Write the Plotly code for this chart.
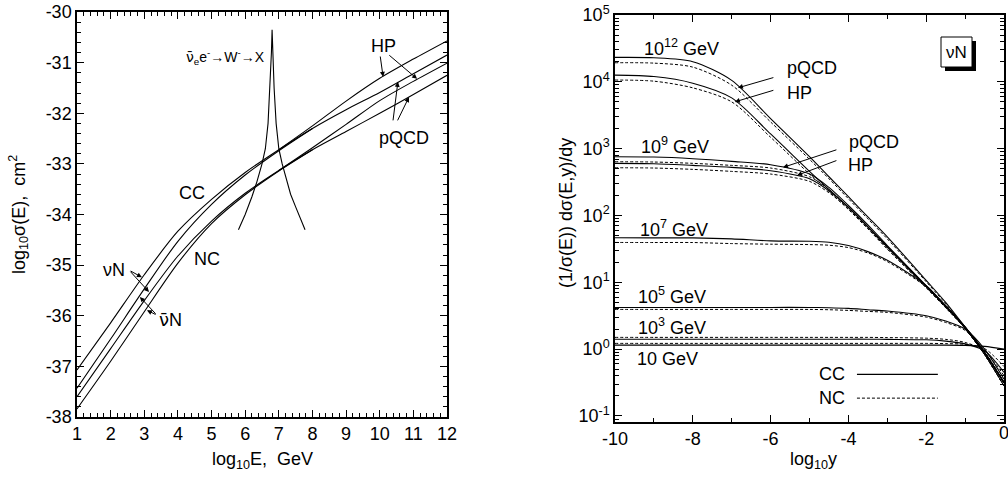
import plotly.graph_objects as go

# ---------------- Left panel data: log10 sigma(E) vs log10 E ----------------
logE = [1, 2, 3, 4, 5, 6, 7, 8, 9, 10, 11, 12]
cc_nu = [-37.07, -36.14, -35.19, -34.33, -33.70, -33.17, -32.72, -32.30, -31.93, -31.59, -31.22, -30.85]
nc_nu = [-37.60, -36.65, -35.70, -34.82, -34.13, -33.58, -33.13, -32.72, -32.36, -32.00, -31.63, -31.25]
logE_bar = [1, 2, 3, 4, 5, 6, 7, 8]
cc_nubar = [-37.43, -36.46, -35.47, -34.53, -33.80, -33.22, -32.74, -32.30]
nc_nubar = [-37.84, -36.90, -35.92, -34.96, -34.18, -33.61, -33.14, -32.72]
logE_hp = [7, 8, 9, 10, 11, 12]
cc_hp = [-32.72, -32.25, -31.76, -31.31, -30.93, -30.57]
nc_hp = [-33.13, -32.68, -32.22, -31.75, -31.37, -31.01]
logE_w = [5.8, 6.0, 6.2, 6.35, 6.5, 6.6, 6.68, 6.74, 6.78, 6.80,
          6.82, 6.86, 6.92, 7.0, 7.1, 7.2, 7.35, 7.5, 7.65, 7.78]
sig_w = [-34.3, -34.0, -33.65, -33.35, -33.0, -32.7, -32.2, -31.5, -30.8, -30.35,
         -30.8, -31.5, -32.2, -32.7, -33.0, -33.25, -33.6, -33.85, -34.1, -34.3]

# ---------------- Right panel data: (1/sigma) dsigma/dy vs log10 y ----------------
logy = [-10, -9, -8, -7, -6, -5, -4.5, -4, -3.5, -3, -2, -1.5, -1, -0.5, 0]
e12_cc_pqcd = [23200, 22900, 20000, 10500, 2820, 759, 380, 191, 95.5, 47.9, 10.7, 5.01, 2.14, 0.891, 0.316]
e12_nc_pqcd = [19300, 19050, 16600, 8910, 2510, 692, 355, 178, 89.1, 44.7, 10.2, 4.79, 2.04, 0.832, 0.282]
e12_cc_hp = [12600, 12000, 9550, 5750, 1660, 457, 245, 132, 67.6, 33.9, 8.71, 4.37, 2.14, 0.891, 0.316]
e12_nc_hp = [10640, 10230, 8130, 5010, 1480, 417, 229, 123, 63.1, 31.6, 8.32, 4.17, 2.04, 0.832, 0.282]
e9_cc_pqcd = [757, 750, 708, 646, 575, 417, 263, 141, 72.4, 35.5, 8.91, 4.47, 2.14, 0.891, 0.316]
e9_nc_pqcd = [637, 631, 603, 562, 513, 380, 245, 132, 67.6, 33.1, 8.51, 4.27, 2.04, 0.832, 0.282]
e9_cc_hp = [603, 596, 562, 525, 468, 355, 234, 132, 67.6, 33.9, 8.71, 4.37, 2.14, 0.891, 0.316]
e9_nc_hp = [518, 513, 490, 457, 417, 324, 219, 126, 64.6, 31.6, 8.32, 4.17, 2.04, 0.832, 0.282]
e7_cc = [46.5, 46.3, 46.2, 44.7, 41.7, 41.2, 39.8, 35.5, 28.8, 21.4, 8.91, 4.47, 2.14, 0.891, 0.316]
e7_nc = [39.5, 39.4, 39.4, 38.0, 37.2, 36.7, 35.9, 33.1, 27.5, 20.4, 8.51, 4.27, 2.04, 0.832, 0.282]
e5_cc = [4.21, 4.21, 4.21, 4.21, 4.21, 4.21, 4.17, 4.07, 3.89, 3.72, 3.16, 2.63, 2.0, 1.0, 0.355]
e5_nc = [3.93, 3.93, 3.93, 3.93, 3.93, 3.93, 3.89, 3.80, 3.67, 3.55, 3.02, 2.51, 1.91, 0.933, 0.316]
e3_cc = [1.41, 1.41, 1.41, 1.41, 1.41, 1.41, 1.41, 1.41, 1.41, 1.40, 1.38, 1.32, 1.20, 0.95, 0.45]
e3_nc = [1.50, 1.50, 1.50, 1.50, 1.50, 1.50, 1.50, 1.50, 1.50, 1.49, 1.46, 1.40, 1.26, 0.95, 0.40]
e1_cc = [1.15, 1.15, 1.15, 1.15, 1.15, 1.15, 1.15, 1.15, 1.15, 1.15, 1.15, 1.15, 1.14, 1.10, 1.0]
e1_nc = [1.22, 1.22, 1.22, 1.22, 1.22, 1.22, 1.22, 1.22, 1.22, 1.22, 1.22, 1.21, 1.18, 1.02, 0.55]

left_yticks = [-38, -37, -36, -35, -34, -33, -32, -31, -30]
right_xticks = [-10, -8, -6, -4, -2, 0]
right_ydecades = [-1, 0, 1, 2, 3, 4, 5]

FONT = "Liberation Sans, Arial, sans-serif"
NUBAR = "<span style='font-family:DejaVu Sans'>ν̄</span>"
W, H = 1008, 477


def px(x):
    return x / W


def py(y):
    return 1 - y / H


fig = go.Figure()


def line(x, y, xa, ya, dash="solid", shape="spline", width=1.1):
    fig.add_trace(go.Scatter(x=x, y=y, mode="lines", xaxis=xa, yaxis=ya,
                             line=dict(color="black", width=width, dash=dash, shape=shape, smoothing=0.8),
                             showlegend=False, hoverinfo="skip"))


# left panel curves
line(logE, cc_nu, "x", "y")
line(logE, nc_nu, "x", "y")
line(logE_bar, cc_nubar, "x", "y")
line(logE_bar, nc_nubar, "x", "y")
line(logE_hp, cc_hp, "x", "y")
line(logE_hp, nc_hp, "x", "y")
line(logE_w, sig_w, "x", "y", shape="linear")

# right panel curves
DASH = "3px,2px"
for cc, nc in [(e12_cc_pqcd, e12_nc_pqcd), (e12_cc_hp, e12_nc_hp), (e9_cc_pqcd, e9_nc_pqcd),
               (e9_cc_hp, e9_nc_hp), (e7_cc, e7_nc), (e5_cc, e5_nc), (e3_cc, e3_nc), (e1_cc, e1_nc)]:
    line(logy, nc, "x2", "y2", dash=DASH, width=1.0)
    line(logy, cc, "x2", "y2", width=1.1)

axis_common = dict(showline=True, linecolor="black", linewidth=1.5, mirror="allticks",
                   ticks="inside", ticklen=7, tickwidth=1.2, tickcolor="black",
                   showgrid=False, zeroline=False, automargin=False,
                   tickfont=dict(family=FONT, size=18, color="black"))

minor_left_x = [round(1 + 0.2 * i, 2) for i in range(56) if (i % 5) != 0]
minor_left_y = [round(-38 + 0.2 * i, 2) for i in range(41) if (i % 5) != 0]
minor_right_y = [m * 10 ** d for d in range(-2, 5) for m in range(2, 10)]

fig.update_layout(
    width=W, height=H, margin=dict(l=0, r=0, t=0, b=0, pad=0),
    paper_bgcolor="white", plot_bgcolor="white",
    xaxis=dict(axis_common, domain=[px(77), px(447)], range=[1, 12], anchor="y",
               tickvals=logE, ticktext=[str(v) for v in logE],
               minor=dict(tickvals=minor_left_x, ticks="inside", ticklen=4, tickcolor="black")),
    yaxis=dict(axis_common, domain=[py(417), py(12)], range=[-38, -30], anchor="x",
               tickvals=left_yticks, ticktext=[str(v) for v in left_yticks],
               minor=dict(tickvals=minor_left_y, ticks="inside", ticklen=4, tickcolor="black")),
    xaxis2=dict(axis_common, domain=[px(615), px(1004)], range=[-10, 0], anchor="y2",
                tickvals=right_xticks, ticktext=[str(v) if v != 0 else "" for v in right_xticks],
                minor=dict(tickvals=[-9, -7, -5, -3, -1], ticks="inside", ticklen=4, tickcolor="black")),
    yaxis2=dict(axis_common, domain=[py(422), py(15)], type="log", range=[-1.09, 5], anchor="x2",
                tickvals=[10 ** d for d in right_ydecades],
                ticktext=["10<sup>%d</sup>" % d for d in right_ydecades],
                minor=dict(tickvals=minor_right_y, ticks="inside", ticklen=4, tickcolor="black")),
)

ann = []


def text(x, y, t, xref="x", yref="y", size=18, **kw):
    kw.setdefault("xanchor", "center")
    kw.setdefault("yanchor", "middle")
    ann.append(dict(x=x, y=y, xref=xref, yref=yref, text=t, showarrow=False,
                    font=dict(family=FONT, size=size, color="black"), **kw))


def arrow(x, y, ax, ay, xref="x", yref="y"):
    ann.append(dict(x=x, y=y, ax=ax, ay=ay, xref=xref, yref=yref, axref=xref, ayref=yref,
                    text="", showarrow=True, arrowhead=2, arrowsize=1, arrowwidth=1, arrowcolor="black"))


# left panel labels
text(5.40, -30.89, NUBAR + "<sub>e</sub>e<sup>-</sup>→W<sup>-</sup>→X", size=14)
text(10.10, -30.67, "HP")
arrow(10.10, -31.28, 10.01, -30.85)
arrow(11.11, -31.32, 10.24, -30.83)
text(10.72, -32.49, "pQCD")
arrow(10.54, -31.38, 10.39, -32.17)
arrow(10.87, -31.68, 10.51, -32.17)
text(4.42, -33.58, "CC")
text(4.86, -34.88, "NC")
text(2.10, -35.10, "νN")
arrow(2.93, -35.24, 2.55, -35.10)
arrow(3.14, -35.53, 2.55, -35.10)
text(3.79, -36.07, NUBAR + "N")
arrow(2.87, -35.63, 3.38, -35.99)
arrow(3.08, -35.89, 3.38, -35.99)

# right panel labels (y in log10 for log axis annotations)
text(-8.28, 4.52, "10<sup>12</sup> GeV", "x2", "y2")
text(-8.46, 3.05, "10<sup>9</sup> GeV", "x2", "y2")
text(-8.48, 1.81, "10<sup>7</sup> GeV", "x2", "y2")
text(-8.53, 0.81, "10<sup>5</sup> GeV", "x2", "y2")
text(-8.53, 0.34, "10<sup>3</sup> GeV", "x2", "y2")
text(-8.64, -0.14, "10 GeV", "x2", "y2")
text(-4.94, 4.21, "pQCD", "x2", "y2")
text(-5.27, 3.83, "HP", "x2", "y2")
arrow(-6.84, 3.91, -5.89, 4.07, "x2", "y2")
arrow(-6.92, 3.70, -5.89, 3.88, "x2", "y2")
text(-3.34, 3.10, "pQCD", "x2", "y2")
text(-3.70, 2.75, "HP", "x2", "y2")
arrow(-5.68, 2.72, -4.27, 2.99, "x2", "y2")
arrow(-5.32, 2.60, -4.27, 2.83, "x2", "y2")
text(-4.42, -0.374, "CC", "x2", "y2")
text(-4.42, -0.734, "NC", "x2", "y2")
text(px(956.5), py(52), "νN", "paper", "paper", size=17)
# right-most x tick label, partly cut by the page edge as in the reference
text(0, py(433), "0", "x2", "paper")

# axis titles
text(px(18), py(215), "log<sub>10</sub>σ(E),  cm<sup>2</sup>", "paper", "paper", textangle=-90)
text(px(262), py(460), "log<sub>10</sub>E,  GeV", "paper", "paper")
text(px(566), py(213), "(1/σ(E)) dσ(E,y)/dy", "paper", "paper", textangle=-90)
text(px(813), py(460), "log<sub>10</sub>y", "paper", "paper")

fig.update_layout(annotations=ann)

# legend sample lines and label box
shapes = [
    dict(type="line", xref="x2", yref="y2", x0=-3.78, x1=-1.70, y0=0.42, y1=0.42,
         line=dict(color="black", width=1.2)),
    dict(type="line", xref="x2", yref="y2", x0=-3.78, x1=-1.70, y0=0.185, y1=0.185,
         line=dict(color="black", width=1, dash=DASH)),
    dict(type="rect", xref="paper", yref="paper", x0=px(945), x1=px(976),
         y0=py(71), y1=py(41), fillcolor="black", line=dict(width=0)),
    dict(type="rect", xref="paper", yref="paper", x0=px(941), x1=px(972),
         y0=py(67), y1=py(37), fillcolor="white", line=dict(color="black", width=1)),
]
fig.update_layout(shapes=shapes)

fig.write_html("out.html", config={"displayModeBar": False},
               post_script="document.body.style.margin='0';document.body.style.overflow='hidden';")
